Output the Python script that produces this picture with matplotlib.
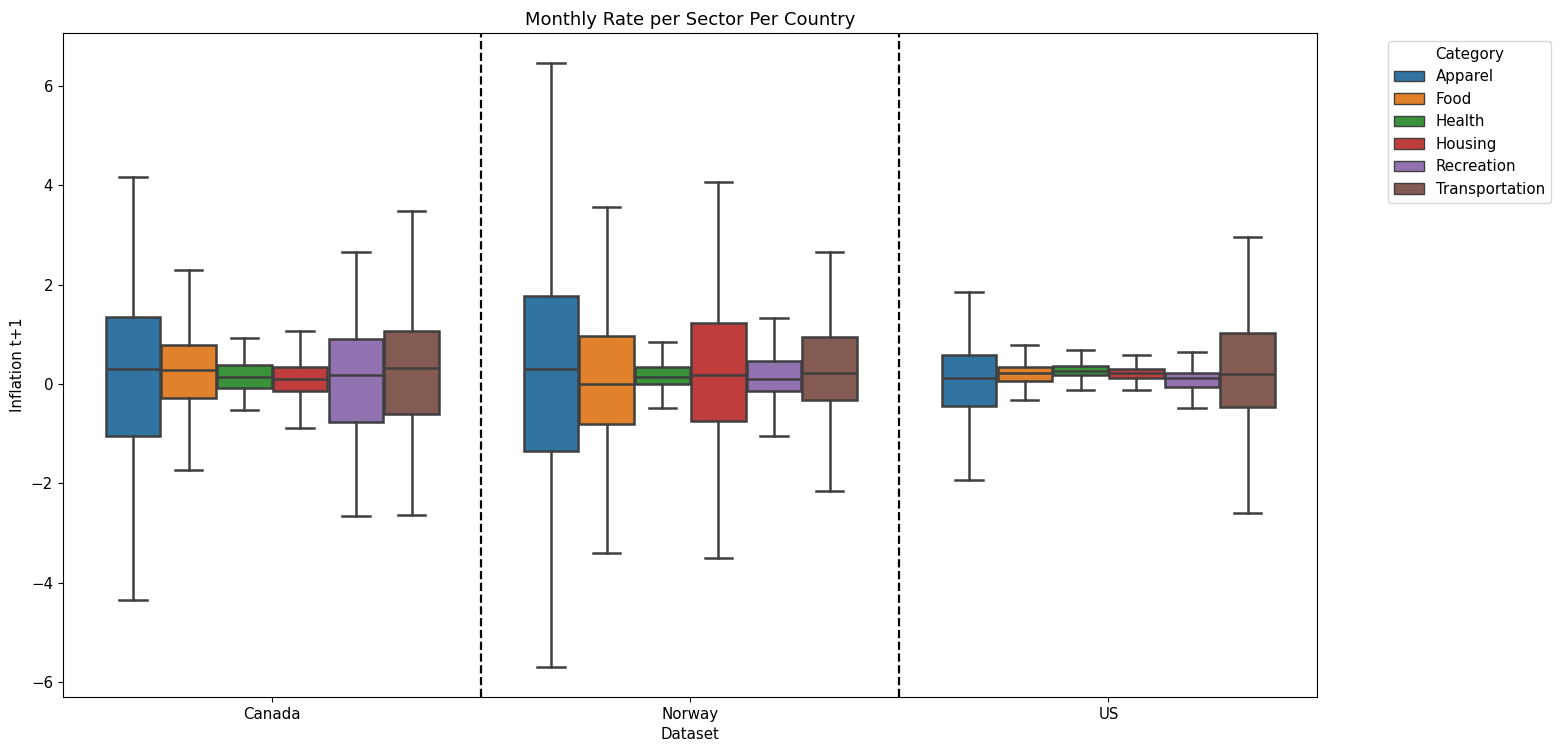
import matplotlib
matplotlib.use("Agg")
import matplotlib.pyplot as plt
from matplotlib.patches import Patch

countries = ["Canada", "Norway", "US"]
categories = ["Apparel", "Food", "Health", "Housing", "Recreation", "Transportation"]
colors = ["#3274a1", "#e1812c", "#3a923a", "#c03d3e", "#9372b2", "#845b53"]

# per country: lists per category in order [whislo, q1, med, q3, whishi]
canada = [
    [-4.35, -1.05, 0.31, 1.36, 4.17],
    [-1.74, -0.29, 0.29, 0.78, 2.30],
    [-0.52, -0.08, 0.15, 0.39, 0.92],
    [-0.88, -0.14, 0.10, 0.34, 1.06],
    [-2.66, -0.77, 0.18, 0.91, 2.66],
    [-2.64, -0.61, 0.33, 1.06, 3.49],
]
norway = [
    [-5.69, -1.34, 0.30, 1.78, 6.46],
    [-3.41, -0.81, 0.00, 0.96, 3.57],
    [-0.49, 0.01, 0.14, 0.34, 0.85],
    [-3.51, -0.75, 0.19, 1.22, 4.07],
    [-1.04, -0.14, 0.11, 0.46, 1.33],
    [-2.16, -0.33, 0.22, 0.95, 2.66],
]
us = [
    [-1.94, -0.45, 0.12, 0.58, 1.86],
    [-0.32, 0.06, 0.22, 0.34, 0.78],
    [-0.12, 0.18, 0.27, 0.37, 0.68],
    [-0.12, 0.12, 0.22, 0.31, 0.59],
    [-0.49, -0.05, 0.12, 0.23, 0.64],
    [-2.60, -0.46, 0.21, 1.03, 2.96],
]
data = [canada, norway, us]

plt.rcParams["font.size"] = 10.8
plt.rcParams["xtick.major.size"] = 3.8
plt.rcParams["ytick.major.size"] = 3.8

fig, ax = plt.subplots(figsize=(15.61, 7.54), dpi=100)
fig.subplots_adjust(left=0.0405, right=0.844, top=0.956, bottom=0.076)

n = len(categories)
each = 0.8 / n
line_col = "#3f3f3f"
lw = 1.8
for gi, group in enumerate(data):
    for ci, vals in enumerate(group):
        lo, q1, med, q3, hi = vals
        pos = gi - 0.4 + each * (ci + 0.5)
        stats = [dict(whislo=lo, q1=q1, med=med, q3=q3, whishi=hi, fliers=[], label="")]
        ax.bxp(stats, positions=[pos], widths=each * 0.98, patch_artist=True,
               showfliers=False, manage_ticks=False,
               boxprops=dict(facecolor=colors[ci], edgecolor=line_col, linewidth=lw),
               medianprops=dict(color=line_col, linewidth=lw),
               whiskerprops=dict(color=line_col, linewidth=lw),
               capprops=dict(color=line_col, linewidth=lw),
               capwidths=each * 0.49)

ax.set_xlim(-0.5, 2.5)
ax.set_xticks(range(len(countries)))
ax.set_xticklabels(countries)
for xv in [0.5, 1.5]:
    ax.axvline(xv, color="black", linestyle="--", linewidth=1.6)

ax.set_title("Monthly Rate per Sector Per Country")
ax.set_xlabel("Dataset")
ax.set_ylabel("Inflation t+1")

handles = [Patch(facecolor=c, edgecolor=line_col, label=l) for c, l in zip(colors, categories)]
ax.legend(handles=handles, title="Category", bbox_to_anchor=(1.05, 1), loc="upper left")

fig.savefig("out.png", dpi=100)
